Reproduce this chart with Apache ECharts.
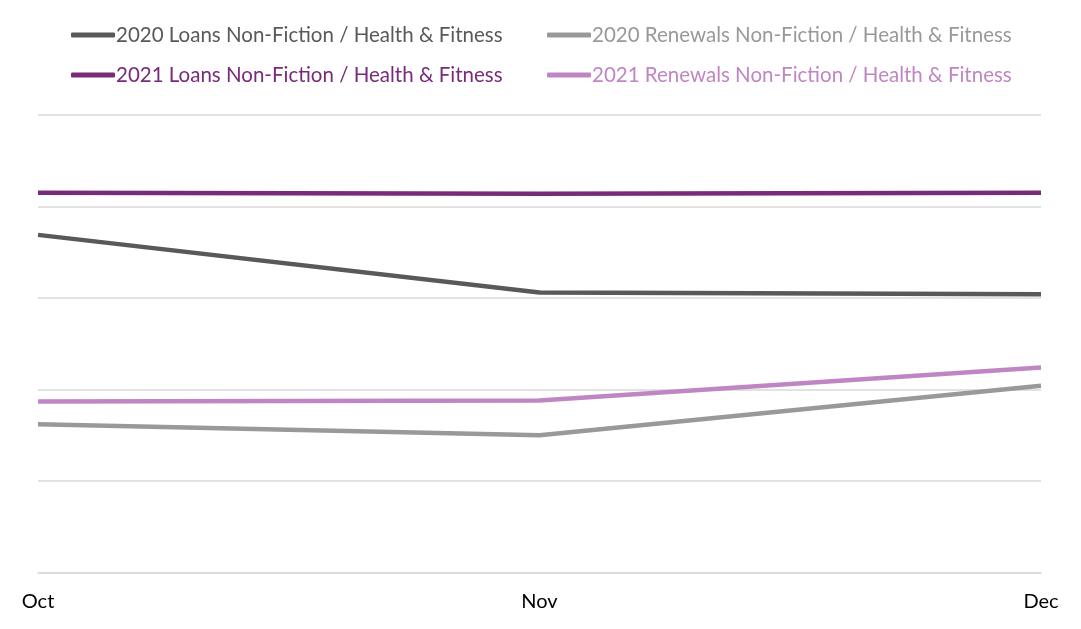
<!DOCTYPE html>
<html>
<head>
<meta charset="utf-8">
<script src="https://cdn.jsdelivr.net/npm/echarts@6/dist/echarts.min.js"></script>
<style>
  html, body { margin: 0; padding: 0; background: #fff; }
  #chart { width: 1081px; height: 629px; }
</style>
</head>
<body>
<div id="chart"></div>
<script>
var months = ['Oct', 'Nov', 'Dec'];
var loans2020 = [36.9, 30.6, 30.4];
var renewals2020 = [16.2, 15.0, 20.4];
var loans2021 = [41.5, 41.4, 41.5];
var renewals2021 = [18.7, 18.8, 22.4];
var yTicks = [0, 10, 20, 30, 40, 50];

var colors = {
    loans2020: '#595959',
    renewals2020: '#999999',
    loans2021: '#782b78',
    renewals2021: '#c086c3'
};
var names = {
    loans2020: '2020 Loans Non-Fiction / Health & Fitness',
    renewals2020: '2020 Renewals Non-Fiction / Health & Fitness',
    loans2021: '2021 Loans Non-Fiction / Health & Fitness',
    renewals2021: '2021 Renewals Non-Fiction / Health & Fitness'
};

var myChart = echarts.init(document.getElementById('chart'));

function legendItem(key) {
    return { name: names[key], textStyle: { color: colors[key] } };
}
function lineSeries(key, data) {
    return {
        name: names[key],
        type: 'line',
        data: data,
        symbol: 'none',
        color: colors[key],
        lineStyle: { width: 4.5, color: colors[key] }
    };
}

// two legend columns, one per loans / renewals
var legendCommon = {
    orient: 'vertical',
    top: 19,
    itemGap: 18,
    itemWidth: 44,
    itemHeight: 5,
    icon: 'roundRect',
    textStyle: { fontFamily: 'Lato', fontSize: 20.5, lineHeight: 22, padding: [0, 0, 0, -4] }
};

var option = {
    animation: false,
    grid: { left: 38, right: 40, top: 115, bottom: 56.5, containLabel: false },
    legend: [
        Object.assign({}, legendCommon, { left: 66, data: [legendItem('loans2020'), legendItem('loans2021')] }),
        Object.assign({}, legendCommon, { left: 542, data: [legendItem('renewals2020'), legendItem('renewals2021')] })
    ],
    xAxis: {
        type: 'category',
        boundaryGap: false,
        data: months,
        axisTick: { show: false },
        axisLine: { show: true, lineStyle: { color: '#d9d9d9', width: 1.5 } },
        axisLabel: { color: '#000', fontFamily: 'Lato', fontSize: 20, margin: 19 }
    },
    yAxis: {
        type: 'value',
        min: yTicks[0],
        max: yTicks[yTicks.length - 1],
        interval: yTicks[1] - yTicks[0],
        axisLabel: { show: false },
        axisLine: { show: false },
        axisTick: { show: false },
        splitLine: { lineStyle: { color: '#d9d9d9', width: 1.5 } }
    },
    series: [
        lineSeries('loans2020', loans2020),
        lineSeries('renewals2020', renewals2020),
        lineSeries('loans2021', loans2021),
        lineSeries('renewals2021', renewals2021)
    ]
};
myChart.setOption(option);
</script>
</body>
</html>
